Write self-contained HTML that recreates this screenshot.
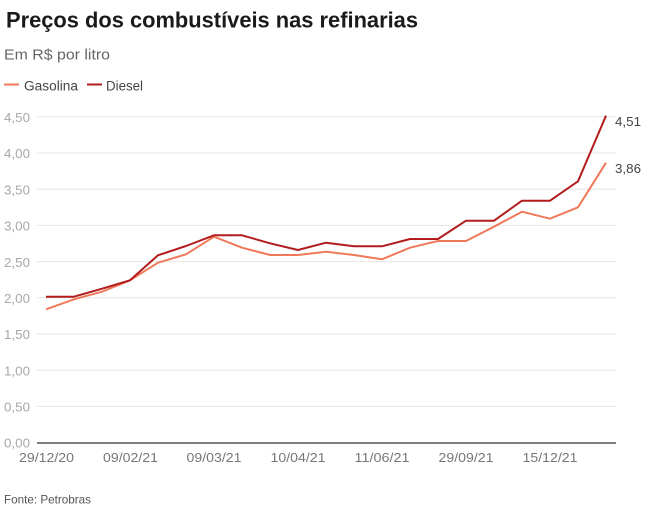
<!DOCTYPE html>
<html>
<head>
<meta charset="utf-8">
<style>
html,body{margin:0;padding:0;background:#fff;}
svg{display:block;}
text{font-family:"Liberation Sans",sans-serif;}
</style>
</head>
<body>
<svg width="646" height="506" viewBox="0 0 646 506" xmlns="http://www.w3.org/2000/svg">
<rect width="646" height="506" fill="#fff"/>
<text x="6" y="27.3" font-size="22" font-weight="bold" fill="#1a1a1a" textLength="412" lengthAdjust="spacingAndGlyphs">Preços dos combustíveis nas refinarias</text>
<text x="4" y="59.3" font-size="14.5" fill="#666" textLength="106" lengthAdjust="spacingAndGlyphs">Em R$ por litro</text>
<line x1="4" y1="84.5" x2="19" y2="84.5" stroke="#f0795c" stroke-width="2"/>
<text x="24" y="90.3" font-size="13.5" fill="#444" textLength="54" lengthAdjust="spacingAndGlyphs">Gasolina</text>
<line x1="87" y1="84.5" x2="102" y2="84.5" stroke="#b21c1c" stroke-width="2"/>
<text x="106" y="90.3" font-size="13.5" fill="#444" textLength="37" lengthAdjust="spacingAndGlyphs">Diesel</text>
<g stroke="#e6e6e6" stroke-width="1">
<line x1="37" y1="116.7" x2="616" y2="116.7"/>
<line x1="37" y1="153" x2="616" y2="153"/>
<line x1="37" y1="189.2" x2="616" y2="189.2"/>
<line x1="37" y1="225.4" x2="616" y2="225.4"/>
<line x1="37" y1="261.6" x2="616" y2="261.6"/>
<line x1="37" y1="297.8" x2="616" y2="297.8"/>
<line x1="37" y1="334" x2="616" y2="334"/>
<line x1="37" y1="370.2" x2="616" y2="370.2"/>
<line x1="37" y1="406.4" x2="616" y2="406.4"/>
</g>
<line x1="37" y1="443" x2="616" y2="443" stroke="#333" stroke-width="1.3"/>
<g font-size="13" fill="#a8a8a8">
<text x="4" y="122" textLength="26" lengthAdjust="spacingAndGlyphs">4,50</text>
<text x="4" y="158.2" textLength="26" lengthAdjust="spacingAndGlyphs">4,00</text>
<text x="4" y="194.4" textLength="26" lengthAdjust="spacingAndGlyphs">3,50</text>
<text x="4" y="230.6" textLength="26" lengthAdjust="spacingAndGlyphs">3,00</text>
<text x="4" y="266.8" textLength="26" lengthAdjust="spacingAndGlyphs">2,50</text>
<text x="4" y="303" textLength="26" lengthAdjust="spacingAndGlyphs">2,00</text>
<text x="4" y="339.2" textLength="26" lengthAdjust="spacingAndGlyphs">1,50</text>
<text x="4" y="375.4" textLength="26" lengthAdjust="spacingAndGlyphs">1,00</text>
<text x="4" y="411.6" textLength="26" lengthAdjust="spacingAndGlyphs">0,50</text>
<text x="4" y="447.5" textLength="26" lengthAdjust="spacingAndGlyphs">0,00</text>
</g>
<g font-size="13" fill="#777" text-anchor="middle">
<text x="46.5" y="462" textLength="55" lengthAdjust="spacingAndGlyphs">29/12/20</text>
<text x="130.5" y="462" textLength="55" lengthAdjust="spacingAndGlyphs">09/02/21</text>
<text x="214" y="462" textLength="55" lengthAdjust="spacingAndGlyphs">09/03/21</text>
<text x="298" y="462" textLength="55" lengthAdjust="spacingAndGlyphs">10/04/21</text>
<text x="382" y="462" textLength="55" lengthAdjust="spacingAndGlyphs">11/06/21</text>
<text x="466" y="462" textLength="55" lengthAdjust="spacingAndGlyphs">29/09/21</text>
<text x="550" y="462" textLength="55" lengthAdjust="spacingAndGlyphs">15/12/21</text>
</g>
<polyline fill="none" stroke="#f0795c" stroke-width="2" stroke-linejoin="round" points="46,309.3 74,299.3 102,291.7 130,280.3 158,262.7 186,254.3 214,236.7 242,247.7 270,255 298,255 326,251.7 354,255 382,259.3 410,247.7 438,241 466,241 494,226.7 522,211.7 550,218.7 578,207.3 606,162.7"/>
<polyline fill="none" stroke="#b21c1c" stroke-width="2" stroke-linejoin="round" points="46,296.7 74,296.7 102,288.7 130,280.3 158,255.3 186,246 214,235.3 242,235.3 270,243.3 298,250 326,242.7 354,246.3 382,246.3 410,239 438,239 466,220.7 494,220.7 522,200.7 550,200.7 578,181.3 606,115.7"/>
<text x="615" y="126" font-size="13" fill="#444" textLength="26" lengthAdjust="spacingAndGlyphs">4,51</text>
<text x="615" y="173" font-size="13" fill="#444" textLength="26" lengthAdjust="spacingAndGlyphs">3,86</text>
<text x="4" y="503.5" font-size="12" fill="#555" textLength="87" lengthAdjust="spacingAndGlyphs">Fonte: Petrobras</text>
</svg>
</body>
</html>
